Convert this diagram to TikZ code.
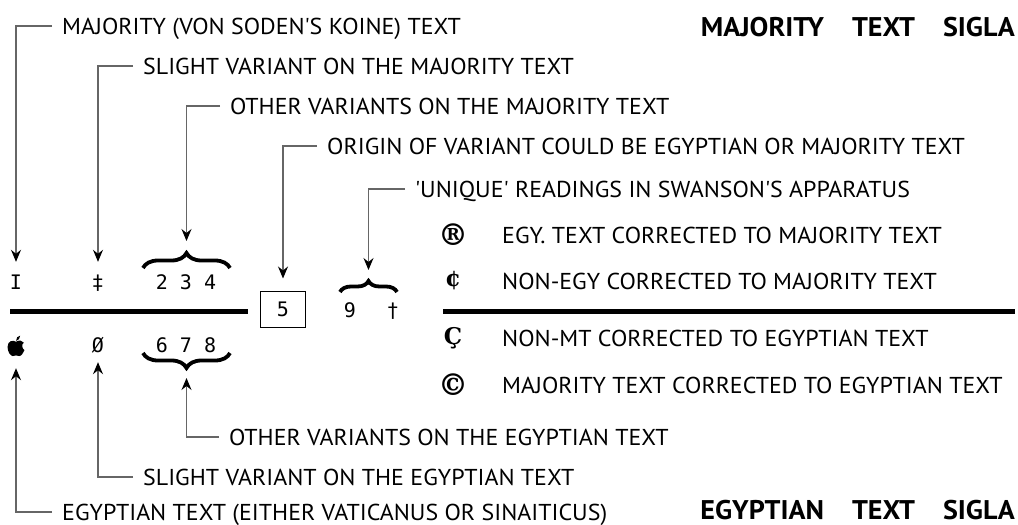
\documentclass[tikz,border=0pt]{standalone}
\usepackage{fontspec}
\setmainfont{PT Sans}[FakeStretch=1.04]
\newfontfamily\siglafont{DejaVu Sans Mono}
\newfontfamily\markfont{DejaVu Serif}
\usetikzlibrary{arrows.meta,decorations.pathreplacing}
\newcommand\qt{\textquotesingle}
\begin{document}
\begin{tikzpicture}[x=1pt,y=-1pt,
  lbl/.style={anchor=west,inner xsep=10pt,inner ysep=0pt,text height=16pt,text depth=0pt,
    font=\fontsize{23}{23}\selectfont},
  head/.style={anchor=east,inner sep=0pt,font=\bfseries\fontsize{27}{27}\selectfont},
  sig/.style={inner sep=0pt,text height=14pt,text depth=0pt,font=\siglafont\fontsize{20}{20}\selectfont},
  corr/.style={inner sep=0pt,font=\markfont\bfseries\fontsize{#1}{#1}\selectfont},
  conn/.style={draw=black!60,line width=1.1pt,-{Stealth[length=12pt,width=10pt,inset=4pt,black]}},
  brc/.style={decorate,decoration={brace,amplitude=#1},line width=3.8pt},
  bar/.style={line width=5pt}]
  \useasboundingbox (0,0) rectangle (1018,525);
  % Row of majority sigla
  \node[sig] (sI) at (16,282) {I};
  \node[sig] (sDdag) at (98,282) {‡};
  \node[sig] (s234) at (186,282) {2 3 4};
  \draw[brc=15pt] (143,268) -- (230,268);
  \coordinate (cTop) at (186.5,249);
  % Middle line with the doubtful sigla
  \draw[bar] (10,311) -- (248,311);
  \draw[bar] (443,311) -- (1015,311);
  \node[sig,draw,line width=1pt,minimum width=45pt,minimum height=36pt] (s5) at (283,309) {5};
  \node[sig] (s9) at (350,310) {9};
  \node[sig] (sDag) at (393,310) {†};
  \draw[brc=11pt] (340,292) -- (397,292);
  \coordinate (cNine) at (368.5,279);
  % Row of egyptian sigla
  \node[minimum width=17pt,minimum height=20pt,inner sep=0pt] (sApple) at (16,345) {};
  \fill[shift={(sApple.center)},scale=1.3] (0,-2.5) .. controls (-2,-4) and (-6.5,-3.5) .. (-6.5,1.5)
    .. controls (-6.5,5.5) and (-4,8.5) .. (-2.5,8.5) .. controls (-1.5,8.5) and (-1,8) .. (0,8)
    .. controls (1,8) and (1.5,8.5) .. (2.5,8.5) .. controls (4,8.5) and (5.8,6) .. (6.5,4)
    .. controls (4.5,3) and (4.2,-1) .. (6,-1.8) .. controls (5,-3.5) and (2.5,-4) .. (0,-2.5) -- cycle
    (0,-3.2) .. controls (0,-5.5) and (1.5,-7) .. (3.2,-7.2) .. controls (3.2,-5) and (1.8,-3.5) .. (0,-3.2) -- cycle;
  \node[sig] (sOslash) at (98,345) {Ø};
  \node[sig] (s678) at (186,345) {6 7 8};
  \draw[brc=15pt] (230,353) -- (143,353);
  \coordinate (cBot) at (186.5,372);
  % Labels above
  \node[lbl] (lMajor) at (52,26) {MAJORITY (VON SODEN\qt S KOINE) TEXT};
  \node[lbl] (lSlightM) at (133,66) {SLIGHT VARIANT ON THE MAJORITY TEXT};
  \node[lbl] (lOtherM) at (220,106) {OTHER VARIANTS ON THE MAJORITY TEXT};
  \node[lbl] (lOrigin) at (317,146) {ORIGIN OF VARIANT COULD BE EGYPTIAN OR MAJORITY TEXT};
  \node[lbl] (lUnique) at (405,189) {\qt UNIQUE\qt{} READINGS IN SWANSON\qt S APPARATUS};
  \draw[conn,shorten >=13pt] (lMajor.west) -| (sI.north);
  \draw[conn,shorten >=13pt] (lSlightM.west) -| (sDdag.north);
  \draw[conn,shorten >=8pt] (lOtherM.west) -| (cTop);
  \draw[conn,shorten >=12pt] (lOrigin.west) -| (s5.north);
  \draw[conn,shorten >=9pt] (lUnique.west) -| (cNine);
  % Labels below
  \node[lbl] (lOtherE) at (219,437) {OTHER VARIANTS ON THE EGYPTIAN TEXT};
  \node[lbl] (lSlightE) at (133,477) {SLIGHT VARIANT ON THE EGYPTIAN TEXT};
  \node[lbl] (lEgypt) at (52,512) {EGYPTIAN TEXT (EITHER VATICANUS OR SINAITICUS)};
  \draw[conn,shorten >=6pt] (lOtherE.west) -| (cBot);
  \draw[conn,shorten >=10pt] (lSlightE.west) -| (sOslash.south);
  \draw[conn,shorten >=13pt] (lEgypt.west) -| (sApple.south);
  % Corrections
  \foreach \n/\y/\s/\m/\t in {R/235/30/®/EGY. TEXT CORRECTED TO MAJORITY TEXT,
      Cent/281/23/¢/NON-EGY CORRECTED TO MAJORITY TEXT,
      Ced/338/23/Ç/NON-MT CORRECTED TO EGYPTIAN TEXT,
      Copy/385/30/©/MAJORITY TEXT CORRECTED TO EGYPTIAN TEXT}{
    \node[corr=\s] (m\n) at (453,\y) {\m};
    \node[lbl] (t\n) at (492,\y) {\t};
  }
  % Headings
  \node[head] (hMajor) at (1015,27) {MAJORITY\hspace{28pt}TEXT\hspace{28pt}SIGLA};
  \node[head] (hEgypt) at (1015,510) {EGYPTIAN\hspace{28pt}TEXT\hspace{28pt}SIGLA};
\end{tikzpicture}
\end{document}
